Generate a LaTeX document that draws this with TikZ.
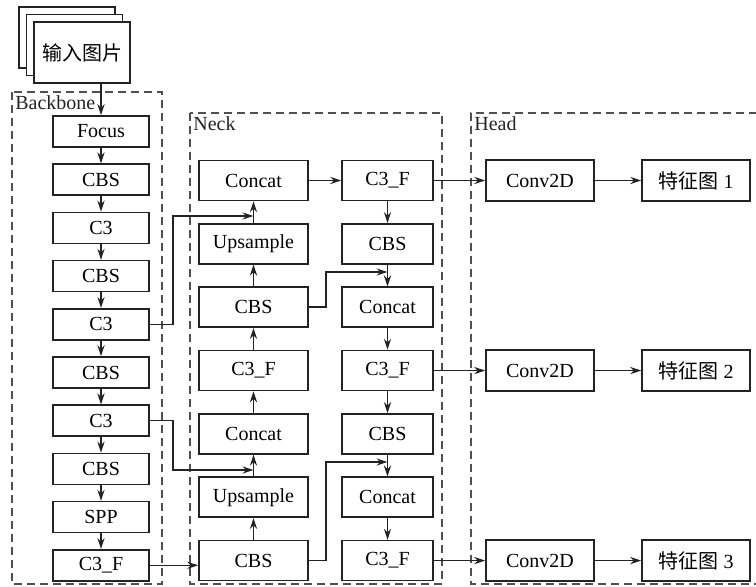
\documentclass[tikz,border=0pt]{standalone}
\usepackage{fontspec}
\setmainfont{Liberation Serif}
\newfontfamily\cjk{Noto Sans CJK SC}
\usetikzlibrary{arrows.meta,calc}
\definecolor{boxline}{RGB}{35,35,35}
\definecolor{dashline}{RGB}{80,80,80}
\tikzset{
  blk/.style    = {draw=boxline,line width=0.8pt,fill=white,inner sep=0pt,
                   minimum width=48pt,minimum height=15.5pt,
                   font=\fontsize{10}{12}\selectfont},
  nlbox/.style  = {blk,minimum width=54.5pt,minimum height=20pt},
  nrbox/.style  = {blk,minimum width=45.5pt,minimum height=20pt},
  hbox/.style   = {blk,minimum width=54pt,minimum height=20.5pt},
  imgbox/.style = {blk,minimum width=48pt,minimum height=30.5pt},
  arrow/.style  = {-{Stealth[length=5.5pt,width=3.6pt]},line width=0.7pt,color=boxline},
  region/.style = {draw=dashline,dash pattern=on 4pt off 2.5pt,line width=0.6pt},
  tag/.style    = {anchor=north west,inner sep=1.5pt,text=boxline,
                   font=\fontsize{10}{12}\selectfont},
}
\begin{document}
\begin{tikzpicture}[x=0.5pt,y=-0.5pt]
  \useasboundingbox (0,0) rectangle (756,587);
  % regions
  \draw[region] (12,92) rectangle (162,584);
  \draw[region] (190,113) rectangle (442,584);
  \draw[region] (757,113) -- (471,113) -- (471,584) -- (757,584);
  \node[tag] at (12,92) {Backbone};
  \node[tag] at (190,113) {Neck};
  \node[tag] at (471,113) {Head};
  % input images
  \node[imgbox] (img3) at (67,37.5) {};
  \node[imgbox] (img2) at (74.5,45) {};
  \node[imgbox] (img1) at (82,52.5) {\cjk 输入图片};
  % backbone
  \foreach \lab [count=\i from 0] in {Focus,CBS,C3,CBS,C3,CBS,C3,CBS,SPP,C3\_F}
    \node[blk] (b\i) at (101,{131.5+48.2*\i}) {\lab};
  \draw[arrow] (img1.south -| b0.north) -- (b0.north);
  \foreach \i [evaluate=\i as \j using int(\i+1)] in {0,...,8}
    \draw[arrow] (b\i.south) -- (b\j.north);
  % neck
  \foreach \lab [count=\i] in {Concat,Upsample,CBS,C3\_F,Concat,Upsample,CBS}
    \node[nlbox] (nl\i) at (253.5,{180.5+63.35*(\i-1)}) {\lab};
  \foreach \lab [count=\i] in {C3\_F,CBS,Concat,C3\_F,CBS,Concat,C3\_F}
    \node[nrbox] (nr\i) at (387.5,{180.5+63.35*(\i-1)}) {\lab};
  \foreach \i [evaluate=\i as \j using int(\i+1)] in {1,...,6}{
    \draw[arrow] (nl\j.north) -- (nl\i.south);
    \draw[arrow] (nr\i.south) -- (nr\j.north);
  }
  \draw[arrow] (nl1.east) -- (nr1.west);
  % joins
  \coordinate (j1) at (253.5,216);
  \coordinate (j2) at (253.5,470);
  \coordinate (j3) at (387.5,272);
  \coordinate (j4) at (387.5,462);
  \draw[arrow] (b4.east) -- ++(23,0) |- (j1);
  \draw[arrow] (b6.east) -- ++(23,0) |- (j2);
  \draw[arrow] (nl3.east) -- ++(17,0) |- (j3);
  \draw[arrow] (nl7.east) -- ++(17,0) |- (j4);
  \draw[arrow] (b9.east) -- (b9.east -| nl7.west);
  % head
  \foreach \r/\k in {1/1,4/2,7/3}{
    \node[hbox] (conv\k) at (540,{180.5+63.35*(\r-1)}) {Conv2D};
    \node[hbox] (feat\k) at (696,{180.5+63.35*(\r-1)}) {{\cjk 特征图} \k};
    \draw[arrow] (nr\r.east) -- (conv\k.west);
    \draw[arrow] (conv\k.east) -- (feat\k.west);
  }
\end{tikzpicture}
\end{document}
